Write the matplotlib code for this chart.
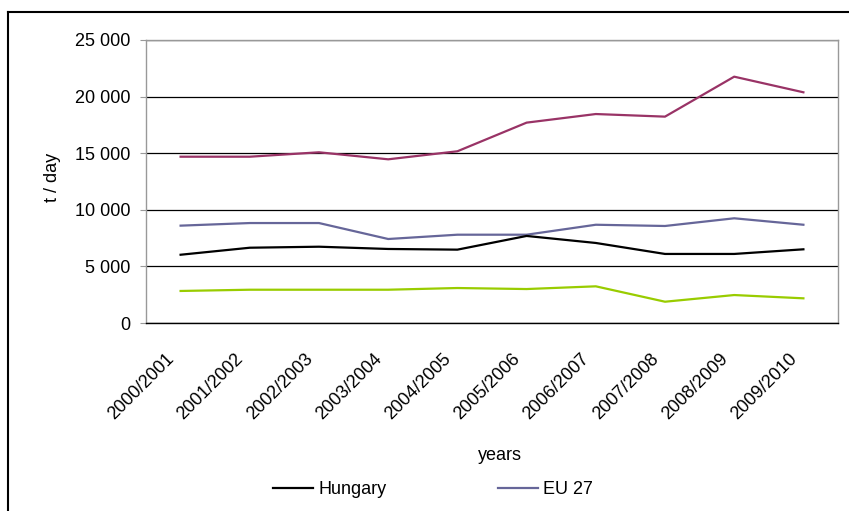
import matplotlib
matplotlib.use("Agg")
import matplotlib.pyplot as plt
from matplotlib.lines import Line2D
from matplotlib.ticker import FuncFormatter, MultipleLocator
from matplotlib.transforms import ScaledTranslation

plt.rcParams['font.family'] = ['Liberation Sans', 'DejaVu Sans']

years = ["2000/2001", "2001/2002", "2002/2003", "2003/2004", "2004/2005",
         "2005/2006", "2006/2007", "2007/2008", "2008/2009", "2009/2010"]
hungary = [6030, 6650, 6740, 6540, 6480, 7690, 7070, 6100, 6100, 6510]
eu27 = [8600, 8830, 8830, 7420, 7800, 7800, 8680, 8570, 9250, 8680]
maroon_series = [14690, 14690, 15080, 14460, 15170, 17700, 18460, 18230, 21760, 20380]
green_series = [2830, 2940, 2940, 2940, 3090, 3000, 3240, 1880, 2470, 2180]

FS = 13
W, H = 849, 511
fig = plt.figure(figsize=(W / 100, H / 100), dpi=100)
ax = fig.add_axes([146 / W, 1 - 323 / H, (838 - 146) / W, (323 - 40) / H])

x = list(range(len(years)))
ax.plot(x, maroon_series, color="#993366", lw=1.6)
ax.plot(x, eu27, color="#666699", lw=1.6, label="EU 27")
ax.plot(x, hungary, color="black", lw=1.6, label="Hungary")
ax.plot(x, green_series, color="#99CC00", lw=1.6)

ax.set_xlim(-0.5, len(years) - 0.5)
ax.set_ylim(0, 25000)
ax.yaxis.set_major_locator(MultipleLocator(5000))
ax.yaxis.set_major_formatter(FuncFormatter(lambda v, p: f"{int(v):,}".replace(",", " ")))
ax.grid(axis="y", color="black", lw=0.9)
ax.set_axisbelow(True)
for s in ax.spines.values():
    s.set_color("#999999")
    s.set_linewidth(1.0)
ax.spines["bottom"].set_color("black")

ax.set_xticks(x)
ax.set_xticklabels(years, rotation=45, ha="right", va="center",
                   rotation_mode="anchor", fontsize=FS)
ax.tick_params(axis="x", length=0, pad=24)
offset = ScaledTranslation(-9 / 100, 0, fig.dpi_scale_trans)
for lab in ax.get_xticklabels():
    lab.set_transform(lab.get_transform() + offset)
ax.tick_params(axis="y", labelsize=FS, length=4, color="#999999", pad=7)

ax.set_ylabel("t / day", fontsize=FS)
ax.yaxis.set_label_coords((61 - 146) / 692, (323 - 177) / 283)
fig.text(500 / W, 1 - 455 / H, "years", ha="center", va="center", fontsize=FS)

handles = [Line2D([], [], color="black", lw=1.6), Line2D([], [], color="#666699", lw=1.6)]
fig.legend(handles, ["Hungary", "EU 27"], ncol=2, frameon=False, fontsize=FS,
           loc="center", bbox_to_anchor=(433 / W, 1 - 490 / H),
           columnspacing=6.2, handlelength=2.2, handletextpad=0.3)

fig.add_artist(Line2D([8 / W, 8 / W], [0, 1 - 12 / H], color="black", lw=1.5,
                      transform=fig.transFigure))
fig.add_artist(Line2D([8 / W, 1], [1 - 12 / H, 1 - 12 / H], color="black", lw=1.5,
                      transform=fig.transFigure))

fig.savefig("out.png", dpi=100, facecolor="white")
